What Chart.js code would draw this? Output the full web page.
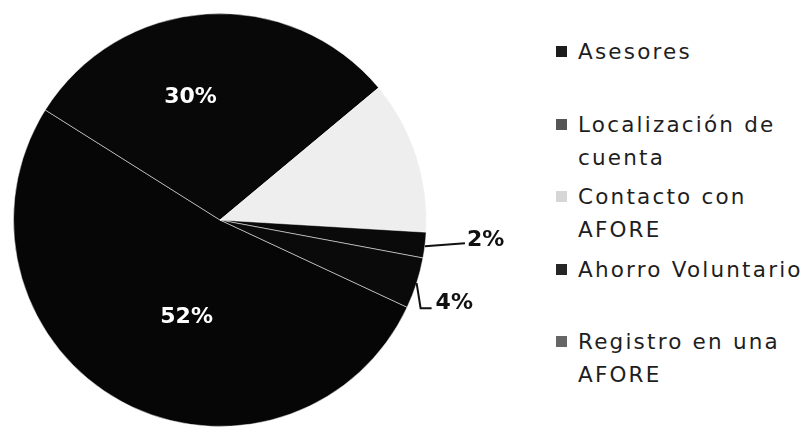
<!DOCTYPE html>
<html>
<head>
<meta charset="utf-8">
<script src="https://cdn.jsdelivr.net/npm/chart.js@4.4.0/dist/chart.umd.min.js"></script>
<style>
  body { margin: 0; background: #fff; width: 809px; height: 433px; overflow: hidden; position: relative; }
  #wrap { position: absolute; left: 0; top: 0; width: 520px; height: 433px; }
  #legend { position: absolute; left: 553px; top: 35px; font-family: "DejaVu Sans", sans-serif; font-size: 21.5px; letter-spacing: 2.2px; color: #1e1e1e; }
  .item { position: relative; height: 72.5px; line-height: 33px; padding-left: 25px; }
  .box { position: absolute; left: 3px; top: 11px; width: 11px; height: 11px; }
</style>
</head>
<body>
<div id="wrap"><canvas id="pie"></canvas></div>
<div id="legend"></div>
<script>
// categories, in drawing order (clockwise)
const labels = [
  'Asesores',
  ['Localización de', 'cuenta'],
  ['Contacto con', 'AFORE'],
  'Ahorro Voluntario',
  ['Registro en una', 'AFORE']
];
const values = [52, 30, 12, 2, 4];

const sliceColors = ['#060606', '#080808', '#eeeeee', '#0a0a0a', '#0a0a0a'];
const legendColors = ['#1c1c1c', '#555555', '#d6d6d6', '#262626', '#666666'];

// percent labels: inside for the big ones, leader lines for the small ones, none for the light slice
const pctLabels = {
  id: 'pctLabels',
  afterDatasetsDraw(chart) {
    const ctx = chart.ctx;
    const arcs = chart.getDatasetMeta(0).data;
    const total = values.reduce((a, b) => a + b, 0);
    ctx.save();
    ctx.font = 'bold 22px "DejaVu Sans", sans-serif';
    ctx.textBaseline = 'middle';
    arcs.forEach((arc, i) => {
      const p = arc.getProps(['x', 'y', 'startAngle', 'endAngle', 'outerRadius'], true);
      const mid = (p.startAngle + p.endAngle) / 2;
      const pct = Math.round(values[i] / total * 100) + '%';
      if (values[i] >= 20) {
        const f = i === 0 ? 0.5 : 0.61;
        const a = mid - 0.17;
        ctx.fillStyle = '#fff';
        ctx.textAlign = 'center';
        ctx.fillText(pct, p.x + Math.cos(a) * p.outerRadius * f, p.y + Math.sin(a) * p.outerRadius * f);
      } else if (values[i] < 10) {
        const x0 = p.x + Math.cos(mid) * p.outerRadius;
        const y0 = p.y + Math.sin(mid) * p.outerRadius;
        ctx.strokeStyle = '#111';
        ctx.lineWidth = 2;
        ctx.fillStyle = '#111';
        ctx.textAlign = 'left';
        ctx.beginPath();
        if (i === 3) {
          ctx.moveTo(x0, y0 + 1);
          ctx.lineTo(x0 + 40, y0 - 2);
          ctx.stroke();
          ctx.fillText(pct, x0 + 42, y0 - 5);
        } else {
          ctx.moveTo(x0, y0);
          ctx.lineTo(x0 + 4, y0 + 25);
          ctx.lineTo(x0 + 15, y0 + 25);
          ctx.stroke();
          ctx.fillText(pct, x0 + 19, y0 + 20);
        }
      }
    });
    ctx.restore();
  }
};

const config = {
  type: 'pie',
  data: {
    labels: labels,
    datasets: [{
      data: values,
      backgroundColor: sliceColors,
      borderColor: 'rgba(255,255,255,0.5)',
      borderWidth: 1
    }]
  },
  options: {
    responsive: true,
    maintainAspectRatio: false,
    animation: false,
    rotation: 115,
    layout: { padding: { left: 13, top: 13, right: 93, bottom: 6 } },
    plugins: {
      legend: { display: false },
      tooltip: { enabled: false }
    }
  },
  plugins: [pctLabels]
};

document.addEventListener('DOMContentLoaded', function () {
  new Chart(document.getElementById('pie').getContext('2d'), config);

  const legend = document.getElementById('legend');
  labels.forEach((lab, i) => {
    const item = document.createElement('div');
    item.className = 'item';
    const box = document.createElement('span');
    box.className = 'box';
    box.style.background = legendColors[i];
    item.appendChild(box);
    const lines = Array.isArray(lab) ? lab : [lab];
    lines.forEach((t, k) => {
      if (k) item.appendChild(document.createElement('br'));
      item.appendChild(document.createTextNode(t));
    });
    legend.appendChild(item);
  });
});
</script>
</body>
</html>
